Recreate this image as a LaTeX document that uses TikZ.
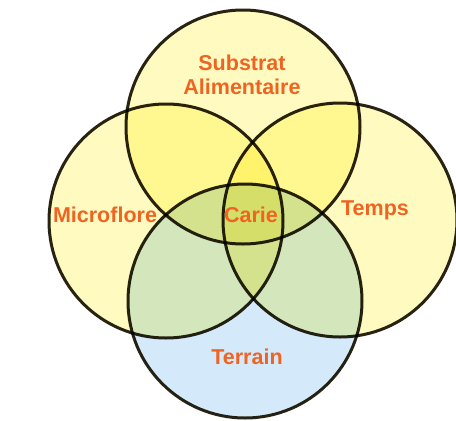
\documentclass[tikz,border=0pt]{standalone}
\usepackage{fontspec}
\setmainfont{Liberation Sans}
\usepackage{tikz}

\definecolor{pale}{RGB}{255,251,192}
\definecolor{sky}{RGB}{212,234,250}
\definecolor{rim}{RGB}{40,35,20}
\definecolor{label}{RGB}{240,100,35}

\begin{document}
\begin{tikzpicture}[x=1pt, y=-1pt,
    venn/.style={circle, draw=rim, line width=3pt, minimum size=234pt, inner sep=0pt},
    word/.style={text=label, font=\bfseries\fontsize{21.5}{24}\selectfont, align=center, inner sep=0pt}]
    \useasboundingbox (0,0) rectangle (456,421);
    % the four circles
    \begin{scope}[blend group=multiply]
    \node(substrat) [venn, fill=pale] at (243,127) {};
    \node(microflore) [venn, fill=pale] at (166,221) {};
    \node(temps) [venn, fill=pale] at (340,220) {};
    \node(terrain) [venn, fill=sky] at (245,301) {};
    \end{scope}

    % labels
    \node(substratlbl) [word] at (242,75) {Substrat\\Alimentaire};
    \node(microflorelbl) [word] at (105,215) {Microflore};
    \node(carielbl) [word] at (251,215) {Carie};
    \node(tempslbl) [word] at (375,210) {Temps};
    \node(terrainlbl) [word] at (247,357) {Terrain};
\end{tikzpicture}
\end{document}
